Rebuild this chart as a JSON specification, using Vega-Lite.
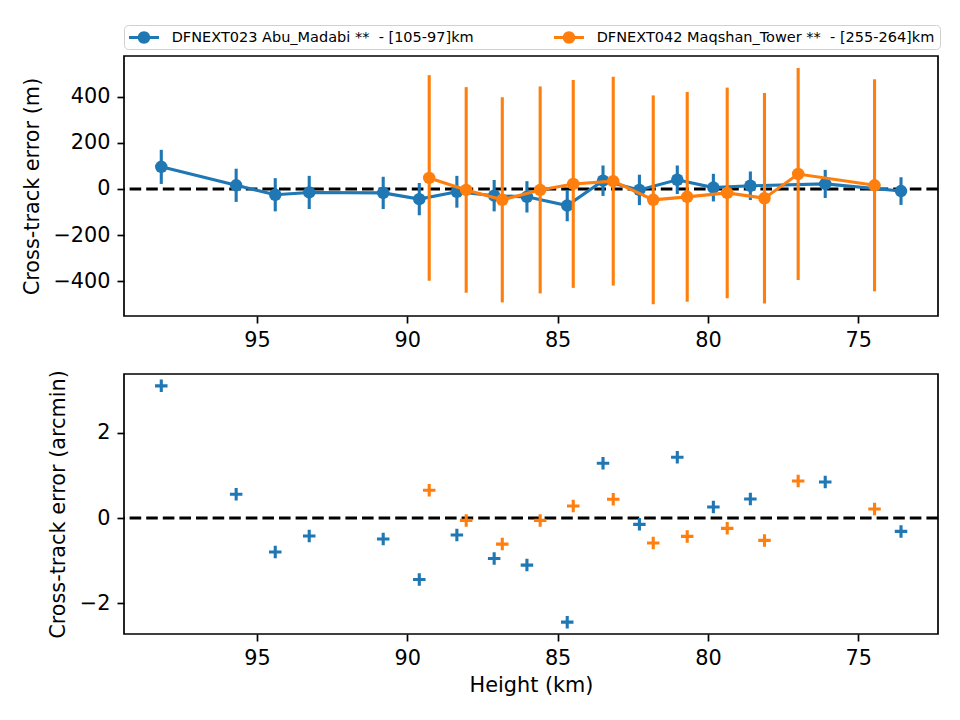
{
  "$schema": "https://vega.github.io/schema/vega-lite/v6.json",
  "background": "white",
  "padding": {"left": 20, "top": 24, "right": 10, "bottom": 10},
  "datasets": {
    "abu": [
      {"station": "DFNEXT023 Abu_Madabi **\u00a0 - [105-97]km", "height_km": 98.18, "xt_m": 96, "sigma_m": 74, "xt_arcmin": 3.095},
      {"station": "DFNEXT023 Abu_Madabi **\u00a0 - [105-97]km", "height_km": 95.69, "xt_m": 16, "sigma_m": 72, "xt_arcmin": 0.556},
      {"station": "DFNEXT023 Abu_Madabi **\u00a0 - [105-97]km", "height_km": 94.39, "xt_m": -25, "sigma_m": 72, "xt_arcmin": -0.797},
      {"station": "DFNEXT023 Abu_Madabi **\u00a0 - [105-97]km", "height_km": 93.26, "xt_m": -15, "sigma_m": 72, "xt_arcmin": -0.422},
      {"station": "DFNEXT023 Abu_Madabi **\u00a0 - [105-97]km", "height_km": 90.80, "xt_m": -17, "sigma_m": 70, "xt_arcmin": -0.492},
      {"station": "DFNEXT023 Abu_Madabi **\u00a0 - [105-97]km", "height_km": 89.60, "xt_m": -44, "sigma_m": 70, "xt_arcmin": -1.438},
      {"station": "DFNEXT023 Abu_Madabi **\u00a0 - [105-97]km", "height_km": 88.35, "xt_m": -12, "sigma_m": 69, "xt_arcmin": -0.399},
      {"station": "DFNEXT023 Abu_Madabi **\u00a0 - [105-97]km", "height_km": 87.11, "xt_m": -29, "sigma_m": 68, "xt_arcmin": -0.946},
      {"station": "DFNEXT023 Abu_Madabi **\u00a0 - [105-97]km", "height_km": 86.02, "xt_m": -34, "sigma_m": 68, "xt_arcmin": -1.102},
      {"station": "DFNEXT023 Abu_Madabi **\u00a0 - [105-97]km", "height_km": 84.68, "xt_m": -72, "sigma_m": 68, "xt_arcmin": -2.438},
      {"station": "DFNEXT023 Abu_Madabi **\u00a0 - [105-97]km", "height_km": 83.49, "xt_m": 36, "sigma_m": 66, "xt_arcmin": 1.282},
      {"station": "DFNEXT023 Abu_Madabi **\u00a0 - [105-97]km", "height_km": 82.28, "xt_m": -4, "sigma_m": 66, "xt_arcmin": -0.148},
      {"station": "DFNEXT023 Abu_Madabi **\u00a0 - [105-97]km", "height_km": 81.02, "xt_m": 40, "sigma_m": 62, "xt_arcmin": 1.422},
      {"station": "DFNEXT023 Abu_Madabi **\u00a0 - [105-97]km", "height_km": 79.82, "xt_m": 6, "sigma_m": 60, "xt_arcmin": 0.258},
      {"station": "DFNEXT023 Abu_Madabi **\u00a0 - [105-97]km", "height_km": 78.59, "xt_m": 14, "sigma_m": 62, "xt_arcmin": 0.445},
      {"station": "DFNEXT023 Abu_Madabi **\u00a0 - [105-97]km", "height_km": 76.10, "xt_m": 22, "sigma_m": 61, "xt_arcmin": 0.844},
      {"station": "DFNEXT023 Abu_Madabi **\u00a0 - [105-97]km", "height_km": 73.58, "xt_m": -9, "sigma_m": 60, "xt_arcmin": -0.313}
    ],
    "maqshan": [
      {"station": "DFNEXT042 Maqshan_Tower **\u00a0 - [255-264]km", "height_km": 89.27, "xt_m": 48, "sigma_m": 446, "xt_arcmin": 0.649},
      {"station": "DFNEXT042 Maqshan_Tower **\u00a0 - [255-264]km", "height_km": 88.04, "xt_m": -4, "sigma_m": 446, "xt_arcmin": -0.055},
      {"station": "DFNEXT042 Maqshan_Tower **\u00a0 - [255-264]km", "height_km": 86.84, "xt_m": -47, "sigma_m": 445, "xt_arcmin": -0.610},
      {"station": "DFNEXT042 Maqshan_Tower **\u00a0 - [255-264]km", "height_km": 85.58, "xt_m": -4, "sigma_m": 449, "xt_arcmin": -0.055},
      {"station": "DFNEXT042 Maqshan_Tower **\u00a0 - [255-264]km", "height_km": 84.48, "xt_m": 22, "sigma_m": 451, "xt_arcmin": 0.281},
      {"station": "DFNEXT042 Maqshan_Tower **\u00a0 - [255-264]km", "height_km": 83.15, "xt_m": 34, "sigma_m": 453, "xt_arcmin": 0.438},
      {"station": "DFNEXT042 Maqshan_Tower **\u00a0 - [255-264]km", "height_km": 81.82, "xt_m": -47, "sigma_m": 453, "xt_arcmin": -0.586},
      {"station": "DFNEXT042 Maqshan_Tower **\u00a0 - [255-264]km", "height_km": 80.69, "xt_m": -34, "sigma_m": 455, "xt_arcmin": -0.430},
      {"station": "DFNEXT042 Maqshan_Tower **\u00a0 - [255-264]km", "height_km": 79.36, "xt_m": -17, "sigma_m": 457, "xt_arcmin": -0.242},
      {"station": "DFNEXT042 Maqshan_Tower **\u00a0 - [255-264]km", "height_km": 78.12, "xt_m": -40, "sigma_m": 457, "xt_arcmin": -0.524},
      {"station": "DFNEXT042 Maqshan_Tower **\u00a0 - [255-264]km", "height_km": 77.00, "xt_m": 65, "sigma_m": 460, "xt_arcmin": 0.867},
      {"station": "DFNEXT042 Maqshan_Tower **\u00a0 - [255-264]km", "height_km": 74.46, "xt_m": 16, "sigma_m": 460, "xt_arcmin": 0.211}
    ],
    "zero": [{"ref": 0}]
  },
  "spacing": 58,
  "bounds": "flush",
  "config": {
    "font": "DejaVu Sans",
    "view": {"stroke": "black", "strokeWidth": 1.7},
    "axis": {
      "domain": false, "grid": false,
      "tickColor": "black", "tickWidth": 1.7, "tickSize": 7,
      "labelFont": "DejaVu Sans", "labelFontSize": 20.8, "labelColor": "black", "labelPadding": 7,
      "labelFlush": false, "labelOverlap": false,
      "titleFont": "DejaVu Sans", "titleFontSize": 20.8, "titleFontWeight": "normal", "titleColor": "black"
    },
    "axisY": {"titlePadding": 10.5},
    "axisX": {"titlePadding": 7.6}
  },
  "vconcat": [
    {
      "width": 814,
      "height": 260,
      "layer": [
        {
          "data": {"name": "zero"},
          "mark": {"type": "rule", "color": "black", "strokeWidth": 3.1, "strokeDash": [11.6, 5]},
          "encoding": {
            "y": {"field": "ref", "type": "quantitative", "title": "Cross-track error (m)", "scale": {"domain": [-551, 577], "nice": false, "zero": false}}
          }
        },
        {
          "data": {"name": "abu"},
          "mark": {"type": "errorbar", "ticks": false, "thickness": 3.1, "color": "#1f77b4"},
          "encoding": {
            "x": {"field": "height_km", "type": "quantitative", "title": null, "scale": {"domain": [72.35, 99.42], "reverse": true, "nice": false, "zero": false}, "axis": {"values": [95, 90, 85, 80, 75]}},
            "y": {"field": "xt_m", "type": "quantitative", "title": "Cross-track error (m)", "scale": {"domain": [-551, 577], "nice": false, "zero": false}},
            "yError": {"field": "sigma_m"}
          }
        },
        {
          "data": {"name": "abu"},
          "mark": {"type": "line", "color": "#1f77b4", "strokeWidth": 3.1},
          "encoding": {
            "x": {"field": "height_km", "type": "quantitative", "title": null, "scale": {"domain": [72.35, 99.42], "reverse": true, "nice": false, "zero": false}, "axis": {"values": [95, 90, 85, 80, 75]}},
            "y": {"field": "xt_m", "type": "quantitative", "title": "Cross-track error (m)", "scale": {"domain": [-551, 577], "nice": false, "zero": false}}
          }
        },
        {
          "data": {"name": "abu"},
          "mark": {"type": "point", "shape": "circle", "filled": true, "opacity": 1, "size": 156},
          "encoding": {
            "x": {"field": "height_km", "type": "quantitative", "title": null, "scale": {"domain": [72.35, 99.42], "reverse": true, "nice": false, "zero": false}, "axis": {"values": [95, 90, 85, 80, 75]}},
            "y": {"field": "xt_m", "type": "quantitative", "title": "Cross-track error (m)", "scale": {"domain": [-551, 577], "nice": false, "zero": false}},
            "color": {
              "field": "station", "type": "nominal",
              "scale": {
                "domain": ["DFNEXT023 Abu_Madabi **\u00a0 - [105-97]km", "DFNEXT042 Maqshan_Tower **\u00a0 - [255-264]km"],
                "range": ["#1f77b4", "#ff7f0e"]
              },
              "legend": {
                "title": null,
                "orient": "top",
                "direction": "horizontal",
                "columns": 2,
                "symbolType": "M-1,-0.207H3V0.207H-1Z M1.833,0A0.833,0.833 0 1,1 0.167,0A0.833,0.833 0 1,1 1.833,0Z",
                "symbolSize": 225,
                "symbolStrokeWidth": 0,
                "symbolOpacity": 1,
                "labelFont": "DejaVu Sans",
                "labelFontSize": 14.5,
                "labelColor": "black",
                "labelLimit": 600,
                "labelOffset": 27.7,
                "columnPadding": 80,
                "padding": 5,
                "strokeColor": "#d0d0d0",
                "fillColor": "white",
                "cornerRadius": 4,
                "offset": 6
              }
            }
          }
        },
        {
          "data": {"name": "maqshan"},
          "mark": {"type": "errorbar", "ticks": false, "thickness": 3.1, "color": "#ff7f0e"},
          "encoding": {
            "x": {"field": "height_km", "type": "quantitative", "title": null, "scale": {"domain": [72.35, 99.42], "reverse": true, "nice": false, "zero": false}, "axis": {"values": [95, 90, 85, 80, 75]}},
            "y": {"field": "xt_m", "type": "quantitative", "title": "Cross-track error (m)", "scale": {"domain": [-551, 577], "nice": false, "zero": false}},
            "yError": {"field": "sigma_m"}
          }
        },
        {
          "data": {"name": "maqshan"},
          "mark": {"type": "line", "color": "#ff7f0e", "strokeWidth": 3.1},
          "encoding": {
            "x": {"field": "height_km", "type": "quantitative", "title": null, "scale": {"domain": [72.35, 99.42], "reverse": true, "nice": false, "zero": false}, "axis": {"values": [95, 90, 85, 80, 75]}},
            "y": {"field": "xt_m", "type": "quantitative", "title": "Cross-track error (m)", "scale": {"domain": [-551, 577], "nice": false, "zero": false}}
          }
        },
        {
          "data": {"name": "maqshan"},
          "mark": {"type": "point", "shape": "circle", "filled": true, "opacity": 1, "size": 156, "color": "#ff7f0e"},
          "encoding": {
            "x": {"field": "height_km", "type": "quantitative", "title": null, "scale": {"domain": [72.35, 99.42], "reverse": true, "nice": false, "zero": false}, "axis": {"values": [95, 90, 85, 80, 75]}},
            "y": {"field": "xt_m", "type": "quantitative", "title": "Cross-track error (m)", "scale": {"domain": [-551, 577], "nice": false, "zero": false}}
          }
        }
      ]
    },
    {
      "width": 814,
      "height": 260,
      "layer": [
        {
          "data": {"name": "zero"},
          "mark": {"type": "rule", "color": "black", "strokeWidth": 3.1, "strokeDash": [11.6, 5]},
          "encoding": {
            "y": {"field": "ref", "type": "quantitative", "title": "Cross-track error (arcmin)", "scale": {"domain": [-2.715, 3.372], "nice": false, "zero": false}, "axis": {"values": [-2, 0, 2]}}
          }
        },
        {
          "data": {"name": "abu"},
          "mark": {"type": "point", "shape": "M-1,0H1M0,-1V1", "filled": false, "opacity": 1, "size": 156, "strokeWidth": 3.1, "color": "#1f77b4"},
          "encoding": {
            "x": {"field": "height_km", "type": "quantitative", "title": "Height (km)", "scale": {"domain": [72.35, 99.42], "reverse": true, "nice": false, "zero": false}, "axis": {"values": [95, 90, 85, 80, 75]}},
            "y": {"field": "xt_arcmin", "type": "quantitative", "title": "Cross-track error (arcmin)", "scale": {"domain": [-2.715, 3.372], "nice": false, "zero": false}, "axis": {"values": [-2, 0, 2]}}
          }
        },
        {
          "data": {"name": "maqshan"},
          "mark": {"type": "point", "shape": "M-1,0H1M0,-1V1", "filled": false, "opacity": 1, "size": 156, "strokeWidth": 3.1, "color": "#ff7f0e"},
          "encoding": {
            "x": {"field": "height_km", "type": "quantitative", "title": "Height (km)", "scale": {"domain": [72.35, 99.42], "reverse": true, "nice": false, "zero": false}, "axis": {"values": [95, 90, 85, 80, 75]}},
            "y": {"field": "xt_arcmin", "type": "quantitative", "title": "Cross-track error (arcmin)", "scale": {"domain": [-2.715, 3.372], "nice": false, "zero": false}, "axis": {"values": [-2, 0, 2]}}
          }
        }
      ]
    }
  ]
}
